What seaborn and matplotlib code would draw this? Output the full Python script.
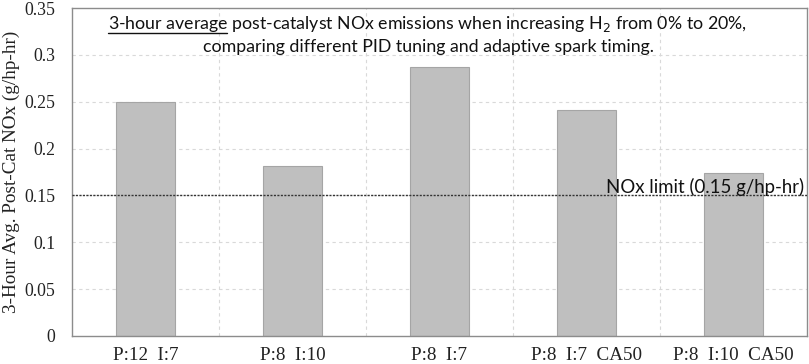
import matplotlib
matplotlib.use("Agg")
import matplotlib.pyplot as plt
import seaborn as sns
import pandas as pd

categories = ["P:12  I:7", "P:8  I:10", "P:8  I:7", "P:8  I:7  CA50", "P:8  I:10  CA50"]
nox_values = [0.250, 0.181, 0.287, 0.241, 0.174]
nox_limit = 0.15
y_ticks = [0, 0.05, 0.1, 0.15, 0.2, 0.25, 0.3, 0.35]
y_tick_labels = ["0", "0.05", "0.1", "0.15", "0.2", "0.25", "0.3", "0.35"]

sns.set_theme(style="white")
plt.rcParams['font.family'] = ['Liberation Serif', 'DejaVu Serif']

df = pd.DataFrame({"cat": categories, "val": nox_values})

fig = plt.figure(figsize=(8.09, 3.64), dpi=100)
ax = fig.add_axes([0.089, 0.077, 0.9085, 0.901])

sns.barplot(data=df, x="cat", y="val", ax=ax, color="#BFBFBF", width=0.4,
            edgecolor="#A5A5A5", linewidth=0.8, saturation=1)

ax.set_xlim(-0.5, len(categories) - 0.5)
ax.set_ylim(0, 0.35)
ax.set_yticks(y_ticks)
ax.set_yticklabels(y_tick_labels, fontsize=12.8, color="#222222")
ax.set_xticks(range(len(categories)))
ax.set_xticklabels(categories, fontsize=13.8, color="#222222")
ax.tick_params(axis="y", length=0, pad=12)
ax.tick_params(axis="x", length=0, pad=8)
ax.set_xlabel("")
ax.set_ylabel("3-Hour Avg. Post-Cat NOx (g/hp-hr)", fontsize=13.8, color="#222222", va="center")
ax.yaxis.set_label_coords(-0.083, 0.5)

# gridlines
for y in y_ticks[1:-1]:
    ax.axhline(y, color="#D9D9D9", linestyle=(0, (3, 3)), linewidth=0.8, zorder=0)
for x in [i + 0.5 for i in range(len(categories) - 1)]:
    ax.axvline(x, color="#D9D9D9", linestyle=(0, (3, 3)), linewidth=0.8, zorder=0)

for s in ax.spines.values():
    s.set_color("#8C8C8C")
    s.set_linewidth(1.0)

# NOx limit line
ax.axhline(nox_limit, color="#333333", linestyle=(0, (1.5, 1)), linewidth=1.0, zorder=3)
ax.text(4.48, nox_limit + 0.003, "NOx limit (0.15 g/hp-hr)", ha="right", va="baseline",
        fontsize=13.4, family=["Lato", "DejaVu Sans"], color="#111111", zorder=4)

# title inside plot
tfont = ["Lato", "DejaVu Sans"]
tsize = 12.8
line1 = "3-hour average post-catalyst NOx emissions when increasing H$_2$ from 0% to 20%,"
line2 = "comparing different PID tuning and adaptive spark timing."
t1 = ax.text(0.484, 0.95, line1, transform=ax.transAxes, ha="center", va="center",
             fontsize=tsize, family=tfont, color="#111111")
t2 = ax.text(0.485, 0.88, line2, transform=ax.transAxes, ha="center", va="center",
             fontsize=tsize, family=tfont, color="#111111")

fig.canvas.draw()
r = fig.canvas.get_renderer()
bb = t1.get_window_extent(r)
inv = fig.transFigure.inverted()
x0 = bb.x0
tmp = fig.text(0, 0, "3-hour average", fontsize=tsize, family=tfont)
wb = tmp.get_window_extent(r)
tmp.remove()
yline = bb.y0 + 1.5
(fx0, fy), (fx1, _) = inv.transform([(x0, yline), (x0 + wb.width, yline)])
fig.add_artist(plt.Line2D([fx0, fx1], [fy, fy], color="#111111", linewidth=1.0,
                          transform=fig.transFigure))

fig.savefig("out.png", dpi=100)
